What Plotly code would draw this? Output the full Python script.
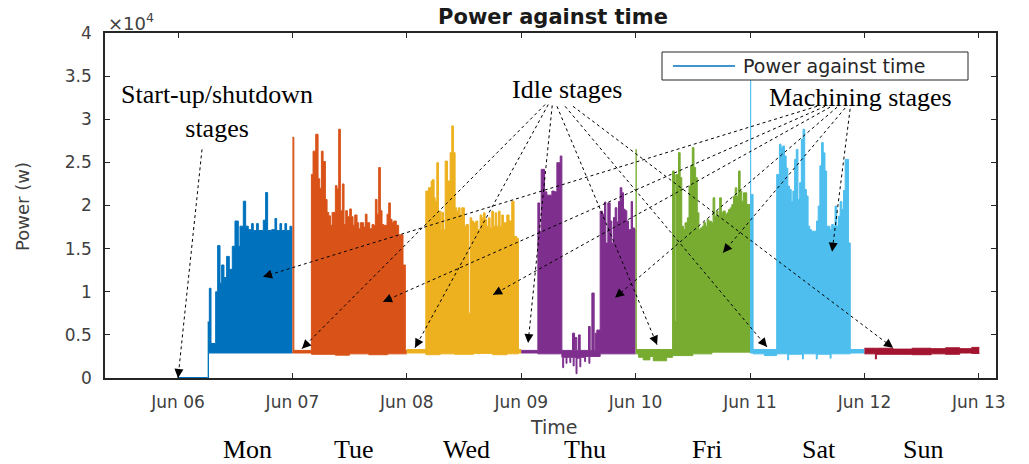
import pandas as pd
import plotly.graph_objects as go

# Each day: hours after midnight where the upper edge of the trace changes, and its value (W)
mon_hours = [6.22, 6.57, 6.92, 7.90, 8.32, 8.81, 9.15, 9.64, 10.20, 10.76, 11.39, 11.95, 12.65, 13.00,
             13.70, 14.19, 14.74, 15.44, 15.79, 16.49, 16.84, 17.89, 18.38, 18.80, 19.64, 20.34, 20.69,
             21.38, 21.73, 22.43, 22.78, 23.48, 23.83, 24.0]
mon_high = [6500, 10400, 4000, 10000, 15350, 11000, 13100, 11650, 14100, 12600, 15270, 18200, 15270, 17600,
            20500, 17600, 17200, 17900, 17100, 17900, 17100, 18300, 21500, 17100, 17200, 18500, 17100,
            17900, 17100, 17900, 17100, 17600, 17400, 17400]
mon_low_hours = [6.22, 6.4, 24.0]
mon_low = [0, 2900, 2900]

tue_hours = [0, 0.3, 3.98, 4.33, 4.89, 5.38, 5.73, 6.08, 6.43, 6.92, 7.27, 7.62, 7.97, 8.32, 9.01, 9.36,
             9.71, 10.06, 10.48, 10.83, 11.18, 11.53, 12.02, 12.37, 12.72, 13.07, 13.56, 13.91, 14.26,
             14.95, 15.30, 15.65, 16.21, 16.70, 17.05, 17.40, 17.75, 18.10, 18.45, 18.80, 19.15, 19.85,
             20.20, 20.55, 20.90, 21.25, 21.80, 22.29, 23.20, 23.69, 24.0]
tue_high = [27900, 3200, 23600, 26300, 28260, 23100, 22000, 26300, 25100, 20700, 19200, 18800, 17700, 19200,
            22300, 21900, 28840, 19400, 22500, 17800, 19400, 18700, 19600, 18700, 17700, 18900, 18000,
            17300, 18000, 17500, 19000, 18000, 17300, 17800, 17700, 20700, 19000, 24400, 19400, 17800,
            17700, 19000, 20300, 18400, 18000, 18200, 17700, 16600, 13100, 3200, 3200]
tue_low_hours = [0, 0.3, 4.0, 9.0, 12.0, 16.0, 20.0, 24.0]
tue_low = [2900, 2900, 2750, 2650, 2800, 2700, 2800, 2800]

wed_hours = [0, 3.98, 4.54, 5.10, 5.38, 5.73, 5.94, 6.29, 6.64, 7.13, 7.34, 7.69, 8.04, 8.53, 9.08, 9.43,
             9.78, 10.13, 10.48, 10.83, 11.18, 11.53, 12.09, 12.44, 12.93, 13.28, 13.63, 13.98, 14.47,
             14.89, 15.37, 15.72, 16.07, 16.42, 16.77, 17.12, 17.47, 17.82, 18.17, 18.52, 18.87, 19.22,
             19.57, 19.92, 20.27, 20.62, 20.97, 21.45, 22.01, 22.50, 23.06, 23.41, 24.0]
wed_high = [3300, 21670, 22060, 22840, 23000, 20900, 20500, 24970, 19340, 17200, 19200, 17200, 25150, 22840,
            26130, 29230, 26130, 19730, 19340, 19730, 18900, 19730, 17600, 17800, 7520, 18570, 18200,
            18000, 18200, 17200, 18900, 18570, 19150, 18400, 17600, 18570, 17400, 19340, 17600, 19150,
            17600, 19340, 17600, 18900, 18000, 18000, 18900, 18200, 20500, 16400, 16200, 3300, 3300]
wed_low_hours = [0, 4.0, 7.0, 10.0, 14.0, 18.0, 21.0, 23.41, 24.0]
wed_low = [2900, 2700, 2800, 2750, 2850, 2700, 2800, 2900, 2900]

thu_hours = [0, 3.49, 3.84, 4.19, 4.89, 5.38, 6.43, 6.99, 7.48, 7.83, 8.18, 8.53, 10.76, 11.18, 11.32,
             11.67, 12.02, 12.37, 14.12, 14.47, 14.82, 15.30, 15.51, 15.86, 16.56, 17.05, 17.47, 17.75,
             18.17, 18.66, 19.01, 19.36, 19.71, 20.06, 20.41, 20.76, 21.11, 21.45, 21.80, 22.15, 22.50,
             23.06, 23.34, 23.76, 24.0]
thu_high = [3200, 20300, 17000, 24190, 21580, 21200, 21670, 21580, 24970, 24970, 25740, 3200, 5200, 3200,
            4700, 3200, 5000, 3200, 5970, 3200, 9850, 3200, 5200, 5560, 19340, 19000, 20400, 15640,
            20300, 18200, 15640, 18600, 19740, 18100, 20450, 22060, 21480, 19570, 19400, 18200, 17200,
            20450, 17400, 17200, 17200]
thu_low_hours = [0, 3.49, 8.53, 8.7, 8.9, 9.4, 9.6, 10.2, 10.4, 10.9, 11.1, 11.5, 11.7, 12.3, 12.5,
                 13.3, 13.5, 14.2, 14.4, 16.56, 24.0]
thu_low = [2900, 2800, 2400, 1200, 2400, 1700, 2400, 1800, 2400, 1400, 2400, 500, 2300, 1300, 2400,
           1900, 2500, 1700, 2500, 2800, 2800]

fri_hours = [0, 0.14, 7.75, 8.09, 8.30, 8.58, 8.99, 9.34, 9.68, 10.03, 10.37, 10.86, 11.20, 11.55, 11.89,
             12.24, 12.59, 12.93, 13.28, 13.62, 13.97, 14.31, 14.66, 15.00, 15.35, 15.90, 16.25, 16.60,
             16.94, 17.29, 17.63, 17.98, 18.33, 18.81, 19.16, 19.50, 19.85, 20.19, 20.54, 20.89, 21.23,
             21.58, 21.92, 22.27, 22.61, 22.96, 23.31, 23.65, 24.0]
fri_high = [26500, 3300, 24000, 23600, 6550, 23600, 26130, 23230, 17600, 17210, 18000, 18570, 22250, 24580,
            26710, 24400, 23230, 19150, 17210, 17400, 17600, 18000, 17600, 18370, 18180, 18000, 20890,
            18760, 19350, 18760, 20890, 19150, 19350, 18960, 19150, 19530, 19730, 20120, 21080, 22050,
            21080, 24000, 21670, 20500, 21470, 21470, 20120, 20120, 20120]
fri_low_hours = [0, 0.6, 1.6, 3.0, 3.7, 5.6, 6.5, 7.75, 12.0, 16.0, 24.0]
fri_low = [2800, 2400, 2100, 2500, 2000, 2000, 2400, 2600, 2800, 3000, 3000]

sat_hours = [0, 0.14, 0.64, 5.59, 6.16, 6.51, 6.87, 7.22, 7.58, 7.93, 8.28, 8.64, 8.99, 9.35, 9.70, 10.05,
             10.41, 10.76, 11.12, 11.47, 11.82, 12.18, 12.53, 12.89, 13.95, 14.30, 14.65, 15.01, 15.36,
             15.72, 16.07, 16.78, 17.13, 17.49, 17.84, 18.19, 18.55, 18.90, 19.26, 19.61, 19.96, 20.32,
             20.67, 21.03, 24.0]
sat_high = [34660, 21280, 3300, 23600, 27100, 26700, 26900, 25740, 24340, 22250, 21860, 20450, 21670, 25350,
            26500, 20700, 22640, 27680, 28840, 21860, 21090, 17600, 17200, 17020, 18200, 19940, 24600,
            27300, 26100, 24000, 17600, 17200, 17800, 17600, 19940, 17600, 18760, 20450, 19540, 21740,
            25350, 25350, 15660, 3300, 3300]
sat_low_hours = [0, 0.64, 3.0, 5.59, 7.9, 8.1, 11.0, 11.2, 13.9, 14.1, 16.8, 17.0, 21.03, 24.0]
sat_low = [2900, 2800, 2600, 2800, 2100, 2750, 2200, 2800, 2200, 2750, 2300, 2800, 2900, 2900]

sun_hours = [0, 2.3, 2.5, 6.0, 10.0, 14.0, 17.0, 20.0, 22.5, 24.1]
sun_high = [3450, 3450, 3450, 3350, 3450, 3400, 3500, 3400, 3550, 3550]
sun_low_hours = sun_hours
sun_low = [2800, 2200, 2750, 2750, 2700, 2800, 2750, 2900, 2850, 2850]

# machine switched off at the start of the week
startup_hours = [0, 6.22]
startup_power = [0, 0]

days = ["2016-06-06", "2016-06-07", "2016-06-08", "2016-06-09", "2016-06-10", "2016-06-11", "2016-06-12"]
day_names = ["Mon", "Tue", "Wed", "Thu", "Fri", "Sat", "Sun"]
day_label_times = ["2016-06-06 14:40", "2016-06-07 12:55", "2016-06-08 12:25", "2016-06-09 13:20",
                   "2016-06-10 15:00", "2016-06-11 14:30", "2016-06-12 12:20"]
colors = ["#0072BD", "#D95319", "#EDB120", "#7E2F8E", "#77AC30", "#4DBEEE", "#A2142F"]

highs = [(mon_hours, mon_high), (tue_hours, tue_high), (wed_hours, wed_high), (thu_hours, thu_high),
         (fri_hours, fri_high), (sat_hours, sat_high), (sun_hours, sun_high)]
lows = [(mon_low_hours, mon_low), (tue_low_hours, tue_low), (wed_low_hours, wed_low),
        (thu_low_hours, thu_low), (fri_low_hours, fri_low), (sat_low_hours, sat_low),
        (sun_low_hours, sun_low)]

y_ticks = [0, 5000, 10000, 15000, 20000, 25000, 30000, 35000, 40000]
y_tick_text = ["0", "0.5", "1", "1.5", "2", "2.5", "3", "3.5", "4"]
x_range = ["2016-06-05 08:41", "2016-06-13 03:36"]

# (tail time, tail W, tip time, tip W)
startup_arrows = [("2016-06-06 05:02", 26500, "2016-06-06 00:00", 0)]
idle_arrows = [
    ("2016-06-09 05:00", 31700, "2016-06-07 02:00", 3400),
    ("2016-06-09 05:40", 31700, "2016-06-08 01:43", 3500),
    ("2016-06-09 06:30", 31600, "2016-06-09 01:26", 4050),
    ("2016-06-09 07:30", 31500, "2016-06-10 04:30", 3850),
    ("2016-06-09 09:12", 31500, "2016-06-11 03:34", 3600),
    ("2016-06-09 10:52", 31500, "2016-06-12 06:00", 3500),
]
machining_arrows = [
    ("2016-06-11 14:04", 31500, "2016-06-06 17:50", 11740),
    ("2016-06-11 15:45", 31500, "2016-06-07 19:00", 8840),
    ("2016-06-11 16:48", 31400, "2016-06-08 18:05", 9650),
    ("2016-06-11 18:16", 31400, "2016-06-09 19:41", 9300),
    ("2016-06-11 19:57", 31300, "2016-06-10 18:20", 14530),
    ("2016-06-11 21:00", 31200, "2016-06-11 17:13", 14650),
]

W, H = 1029, 464
L, R, T, B = 105, 996, 33, 378          # plot area in pixels
X0, X1 = pd.Timestamp(x_range[0]), pd.Timestamp(x_range[1])


def stamp(day, hours):
    return pd.Timestamp(day) + pd.to_timedelta(hours, unit="h")


def to_px(t, v):
    frac = (pd.Timestamp(t) - X0) / (X1 - X0)
    return L + frac * (R - L), B - v / 40000 * (B - T)


def px(x, y):
    return (x - L) / (R - L), (B - y) / (B - T)


AX_FONT = dict(family="DejaVu Sans", size=17, color="#404040")
SERIF = dict(family="Liberation Serif", size=26, color="black")

fig = go.Figure()

fig.add_trace(go.Scatter(
    x=stamp(days[0], startup_hours), y=startup_power, mode="lines",
    line=dict(color=colors[0], width=2), name="Power against time", showlegend=False,
))

for day, color, (lh, lv), (hh, hv) in zip(days, colors, lows, highs):
    fig.add_trace(go.Scatter(
        x=stamp(day, lh), y=lv, mode="lines", showlegend=False, hoverinfo="skip",
        line=dict(color=color, width=1, shape="hv"),
    ))
    fig.add_trace(go.Scatter(
        x=stamp(day, hh), y=hv, mode="lines", showlegend=False,
        line=dict(color=color, width=1, shape="hv"), fill="tonexty", fillcolor=color,
    ))

annotations = []
shapes = []
for tail_t, tail_v, tip_t, tip_v in startup_arrows + idle_arrows + machining_arrows:
    shapes.append(dict(type="line", xref="x", yref="y", x0=tail_t, y0=tail_v, x1=tip_t, y1=tip_v,
                       line=dict(color="black", width=1, dash="dot")))
    (tx, ty), (hx, hy) = to_px(tail_t, tail_v), to_px(tip_t, tip_v)
    d = ((tx - hx) ** 2 + (ty - hy) ** 2) ** 0.5
    annotations.append(dict(x=tip_t, y=tip_v, xref="x", yref="y", text="", showarrow=True,
                            arrowhead=2, arrowsize=1.8, arrowwidth=1, arrowcolor="black",
                            ax=(tx - hx) / d * 10, ay=(ty - hy) / d * 10, standoff=0))

for name, t in zip(day_names, day_label_times):
    annotations.append(dict(x=t, y=px(0, 449)[1], xref="x", yref="paper", text=name,
                            xanchor="center", yanchor="middle", showarrow=False, font=SERIF))

for text, (x, y) in [("Start-up/shutdown<br>stages", (217, 111)), ("Idle stages", (567, 89)),
                     ("Machining stages", (860, 98))]:
    ax_, ay_ = px(x, y)
    annotations.append(dict(x=ax_, y=ay_, xref="paper", yref="paper", text=text, showarrow=False,
                            xanchor="center", yanchor="middle", font=SERIF))

ex, ey = px(106, 22)
annotations.append(dict(x=ex, y=ey, xref="paper", yref="paper", xanchor="left", yanchor="middle",
                        showarrow=False, text="×10<sup>4</sup>",
                        font=dict(family="DejaVu Sans", size=18, color="#404040")))
tx_, ty_ = px(554, 427)
annotations.append(dict(x=tx_, y=ty_, xref="paper", yref="paper", showarrow=False, text="Time",
                        xanchor="center", yanchor="middle",
                        font=dict(family="DejaVu Sans", size=19, color="#404040")))
yx_, yy_ = px(22, 207)
annotations.append(dict(x=yx_, y=yy_, xref="paper", yref="paper", showarrow=False, text="Power (w)",
                        xanchor="center", yanchor="middle", textangle=-90,
                        font=dict(family="DejaVu Sans", size=18, color="#404040")))

# legend box drawn in the MATLAB style
(bx0, by0), (bx1, by1) = px(662, 80), px(968, 52)
shapes.append(dict(type="rect", xref="paper", yref="paper", x0=bx0, y0=by0, x1=bx1, y1=by1,
                   fillcolor="white", line=dict(color="#262626", width=1)))
(lx0, ly0), (lx1, _) = px(673, 66), px(735, 66)
shapes.append(dict(type="line", xref="paper", yref="paper", x0=lx0, y0=ly0, x1=lx1, y1=ly0,
                   line=dict(color=colors[0], width=1.5)))
gx, gy = px(741, 66)
annotations.append(dict(x=gx, y=gy, xref="paper", yref="paper", xanchor="left", yanchor="middle",
                        showarrow=False, text="Power against time",
                        font=dict(family="DejaVu Sans", size=19, color="#262626")))

axis_common = dict(
    showline=True, linecolor="#262626", linewidth=1.5, mirror="ticks", ticks="inside",
    ticklen=5, tickcolor="#262626", showgrid=False, zeroline=False, tickfont=AX_FONT,
    layer="below traces", ticklabelstandoff=8,
)

fig.update_layout(
    width=W, height=H,
    margin=dict(l=L, r=W - R, t=T, b=H - B),
    plot_bgcolor="white", paper_bgcolor="white", showlegend=False,
    title=dict(text="<b>Power against time</b>", x=px(553, 0)[0], xref="paper", xanchor="center",
               y=1 - 17 / H, yanchor="middle",
               font=dict(family="DejaVu Sans", size=21, color="#1a1a1a")),
    xaxis=dict(type="date", range=x_range, tick0=days[0], dtick=86400000, tickformat="%b %d",
               **axis_common),
    yaxis=dict(range=[0, 40000], tickvals=y_ticks, ticktext=y_tick_text, **axis_common),
    shapes=shapes,
    annotations=annotations,
)

# drop the default 8px page margin so the figure fills the window exactly
fig.write_html("out.html", config={"displayModeBar": False},
               post_script="document.body.style.margin = '0';")
